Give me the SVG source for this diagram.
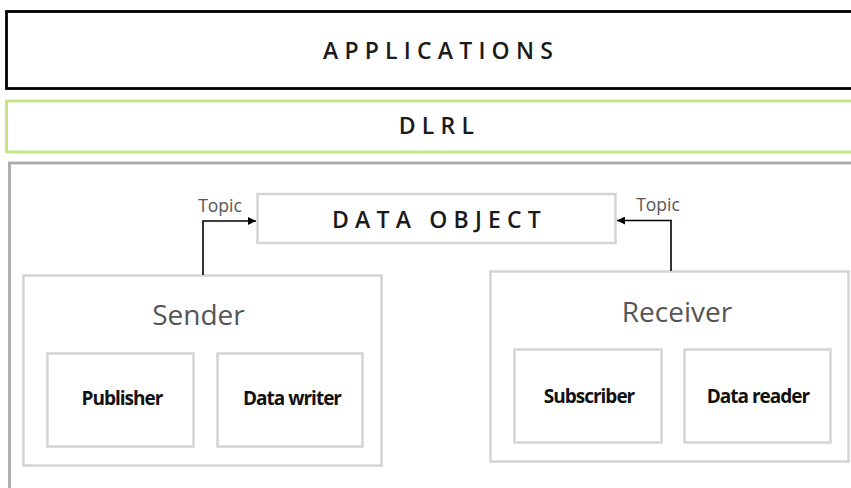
<svg xmlns="http://www.w3.org/2000/svg" width="851" height="488" viewBox="0 0 851 488">
<style>
.box{fill:#fff;stroke:#d4d4d4;stroke-width:2.5}
.cap{font-family:"Open Sans","Liberation Sans",sans-serif;font-weight:600;font-size:23px;fill:#1a1a1a;letter-spacing:6.2px;text-anchor:middle}
.big{font-family:"Open Sans","Liberation Sans",sans-serif;font-size:28px;fill:#555;text-anchor:middle}
.sub{font-family:"Open Sans","Liberation Sans",sans-serif;font-weight:700;font-size:19px;fill:#111;letter-spacing:-1px;text-anchor:middle}
.lbl{font-family:"Open Sans","Liberation Sans",sans-serif;font-size:17.5px;fill:#555;text-anchor:middle}
.conn{fill:none;stroke:#000;stroke-width:1.6}
</style>
<defs>
<marker id="arr" viewBox="0 0 10 10" refX="10" refY="5" markerWidth="8" markerHeight="8" markerUnits="userSpaceOnUse" orient="auto">
<path d="M0,0 L10,5 L0,10 z" fill="#000"/>
</marker>
</defs>
<rect width="851" height="488" fill="#fff"/>
<g id="applications">
<rect x="6.5" y="11.5" width="900" height="77" fill="#fff" stroke="#000" stroke-width="2.8"/>
<text class="cap" x="441" y="59">APPLICATIONS</text>
</g>
<g id="dlrl">
<rect x="6.5" y="101" width="900" height="51" fill="#fff" stroke="#c3e381" stroke-width="2.8"/>
<text class="cap" x="439.5" y="134">DLRL</text>
</g>
<g id="dcps">
<rect x="9.5" y="163" width="900" height="400" fill="#fff" stroke="#ababab" stroke-width="2.8"/>
</g>
<g id="data-object">
<rect class="box" x="257.5" y="194" width="358" height="49"/>
<text class="cap" x="439.5" y="228">DATA OBJECT</text>
</g>
<g id="sender">
<rect class="box" x="23.5" y="275.5" width="358" height="190"/>
<text class="big" x="198.5" y="325">Sender</text>
</g>
<g id="publisher">
<rect class="box" x="47.5" y="353.5" width="146" height="93"/>
<text class="sub" x="122" y="405">Publisher</text>
</g>
<g id="data-writer">
<rect class="box" x="217.5" y="353.5" width="145" height="93"/>
<text class="sub" x="292" y="405">Data writer</text>
</g>
<g id="receiver">
<rect class="box" x="490.5" y="271.5" width="358" height="190"/>
<text class="big" x="677" y="322">Receiver</text>
</g>
<g id="subscriber">
<rect class="box" x="514.5" y="349.5" width="147" height="93"/>
<text class="sub" x="589" y="403">Subscriber</text>
</g>
<g id="data-reader">
<rect class="box" x="684.5" y="349.5" width="146" height="93"/>
<text class="sub" x="758" y="403">Data reader</text>
</g>
<g id="connectors">
<path class="conn" d="M203,275 V221 H256" marker-end="url(#arr)"/>
<path class="conn" d="M671,271 V220.5 H617" marker-end="url(#arr)"/>
<text class="lbl" x="220" y="212">Topic</text>
<text class="lbl" x="658" y="211">Topic</text>
</g>
</svg>
